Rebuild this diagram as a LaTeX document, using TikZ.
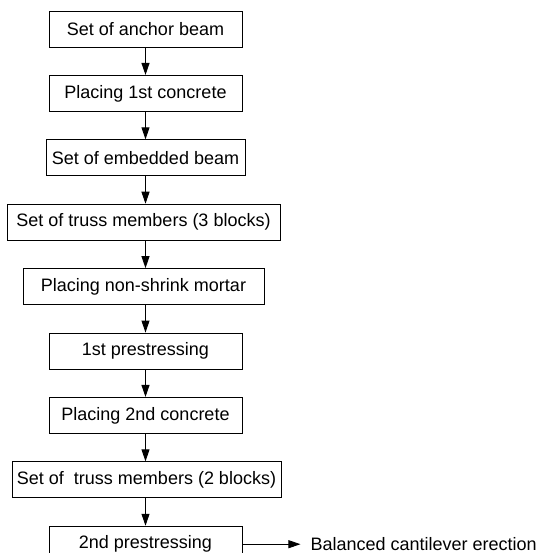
\documentclass[tikz,border=0pt]{standalone}
\usepackage{fontspec}
\setmainfont{Liberation Sans}
\usetikzlibrary{arrows.meta, positioning}
\tikzstyle{arrow}=[-{Triangle[length=12pt,width=8pt]}, line width=0.9pt, color=black]

\begin{document}
\begin{tikzpicture}[x=1pt, y=1pt, node distance=27.5pt and 68pt,
  stepbox/.style={rectangle, draw=black, line width=0.9pt,
                  minimum height=36pt, inner sep=0pt,
                  font=\fontsize{18}{21}\selectfont}
]
\useasboundingbox (0,0) rectangle (538,-553);
\node[stepbox, minimum width=193pt] (anchor) at (145.5,-29) {Set of anchor beam};
\node[stepbox, minimum width=193pt, below=of anchor] (conc1) {Placing 1st concrete};
\node[stepbox, minimum width=199pt, below=of conc1] (embed) {Set of embedded beam};
\node[stepbox, minimum width=273pt, below=of embed, xshift=-2pt] (truss3) {Set of truss members (3 blocks)};
\node[stepbox, minimum width=241pt, below=of truss3] (mortar) {Placing non-shrink mortar};
\node[stepbox, minimum width=193pt, below=of mortar, xshift=2pt] (pre1) {1st prestressing};
\node[stepbox, minimum width=193pt, below=of pre1] (conc2) {Placing 2nd concrete};
\node[stepbox, minimum width=269pt, below=of conc2, xshift=1pt] (truss2) {Set of \ truss members (2 blocks)};
\node[stepbox, minimum width=193pt, below=of truss2, xshift=-1pt] (pre2) {2nd prestressing};
\node[right=of pre2, inner sep=0pt, font=\fontsize{18}{21}\selectfont] (bce) {Balanced cantilever erection};

\draw[arrow] (anchor) -- (conc1);
\draw[arrow] (conc1)  -- (embed);
\draw[arrow] (embed)  -- (embed.south |- truss3.north);
\draw[arrow] (embed.south |- truss3.south) -- (embed.south |- mortar.north);
\draw[arrow] (pre1.north |- mortar.south) -- (pre1);
\draw[arrow] (pre1)   -- (conc2);
\draw[arrow] (conc2)  -- (conc2.south |- truss2.north);
\draw[arrow] (conc2.south |- truss2.south) -- (pre2);
\draw[arrow, shorten >=10pt] (pre2) -- (bce);
\end{tikzpicture}
\end{document}
